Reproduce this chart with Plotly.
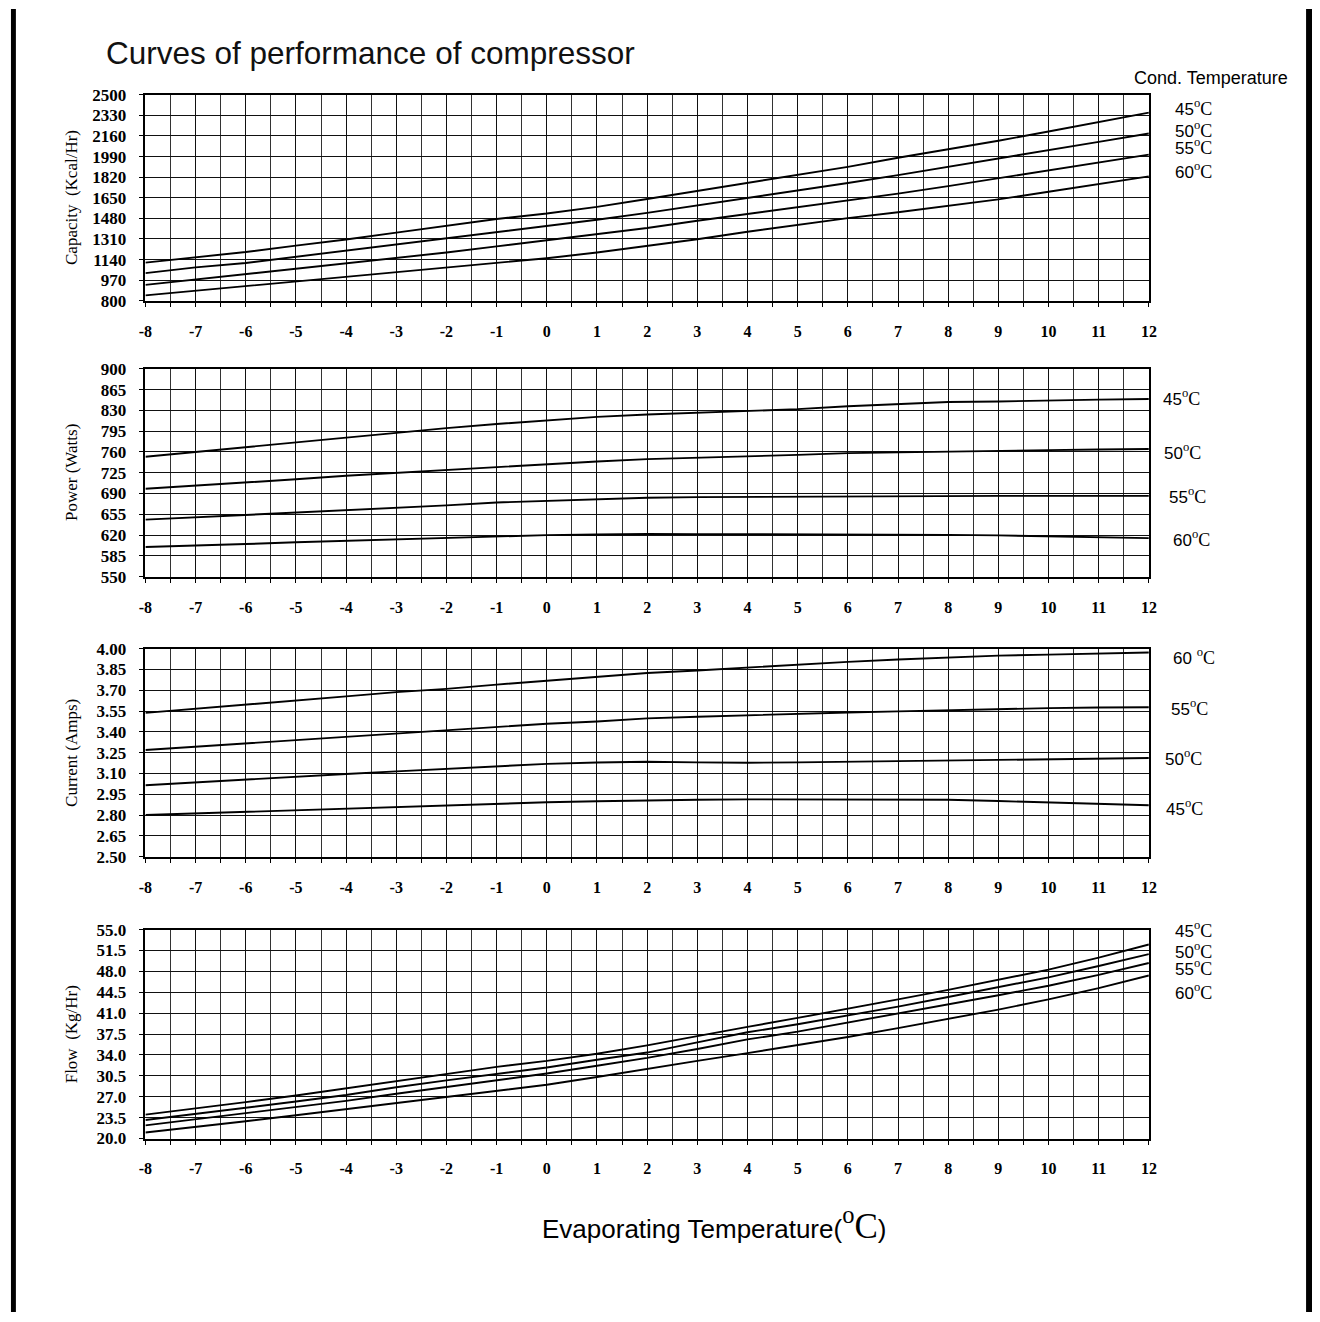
import plotly.graph_objects as go

# ---------------- data ----------------
evap = [-8, -7, -6, -5, -4, -3, -2, -1, 0, 1, 2, 3, 4, 5, 6, 7, 8, 9, 10, 11, 12]

cap_45 = [1115, 1160, 1202, 1255, 1305, 1362, 1418, 1475, 1520, 1575, 1640, 1706, 1770, 1840, 1905, 1980, 2050, 2120, 2197, 2277, 2352]
cap_50 = [1028, 1075, 1112, 1163, 1215, 1268, 1320, 1370, 1416, 1468, 1525, 1586, 1646, 1708, 1772, 1837, 1904, 1971, 2038, 2111, 2180]
cap_55 = [931, 975, 1018, 1062, 1110, 1152, 1198, 1249, 1298, 1348, 1400, 1460, 1515, 1571, 1628, 1684, 1746, 1810, 1875, 1937, 2006]
cap_60 = [844, 882, 920, 955, 993, 1031, 1070, 1108, 1151, 1198, 1252, 1308, 1369, 1428, 1482, 1530, 1581, 1637, 1699, 1761, 1826]

pow_45 = [752, 760, 768, 777, 784, 793, 800, 807, 813, 819, 823, 826, 828, 832, 837, 840, 844, 845, 847, 848, 849]
pow_50 = [698, 703, 708, 714, 720, 725, 730, 735, 740, 744, 748, 750, 752, 755, 758, 759.5, 761, 762, 763, 764, 765]
pow_55 = [646, 650, 654, 658, 661, 666, 670, 675, 678, 680, 683, 684, 684.5, 685, 685.5, 686, 686, 686, 686, 686, 686]
pow_60 = [600, 602, 605, 608, 610.5, 613, 616, 618, 620, 621, 622, 621.7, 621.7, 621.7, 621.5, 621, 620.5, 619.5, 618, 616.5, 615]

cur_60 = [3.537, 3.566, 3.594, 3.625, 3.656, 3.687, 3.71, 3.741, 3.77, 3.794, 3.824, 3.843, 3.865, 3.886, 3.905, 3.922, 3.938, 3.95, 3.957, 3.964, 3.972]
cur_55 = [3.269, 3.293, 3.316, 3.34, 3.366, 3.39, 3.411, 3.435, 3.459, 3.475, 3.497, 3.509, 3.521, 3.53, 3.54, 3.548, 3.557, 3.564, 3.571, 3.576, 3.578]
cur_50 = [3.015, 3.036, 3.058, 3.077, 3.096, 3.115, 3.134, 3.153, 3.169, 3.179, 3.184, 3.18, 3.177, 3.18, 3.185, 3.19, 3.195, 3.2, 3.204, 3.209, 3.211]
cur_45 = [2.80, 2.812, 2.821, 2.833, 2.845, 2.857, 2.869, 2.881, 2.892, 2.899, 2.906, 2.91, 2.913, 2.913, 2.913, 2.913, 2.91, 2.901, 2.891, 2.88, 2.871]

flow_45 = [24.0, 25.0, 26.1, 27.2, 28.4, 29.7, 30.9, 32.0, 33.0, 34.2, 35.6, 37.2, 38.7, 40.2, 41.7, 43.3, 44.9, 46.6, 48.3, 50.3, 52.5]
flow_50 = [23.1, 24.1, 25.1, 26.2, 27.3, 28.6, 29.75, 30.8, 31.9, 33.2, 34.4, 36.1, 37.8, 39.15, 40.6, 42.1, 43.7, 45.3, 47.0, 48.9, 50.9]
flow_55 = [22.2, 23.2, 24.2, 25.2, 26.3, 27.5, 28.65, 29.7, 30.9, 32.2, 33.5, 35.0, 36.6, 37.9, 39.4, 40.9, 42.5, 44.0, 45.6, 47.4, 49.4]
flow_60 = [21.0, 21.9, 22.9, 23.9, 24.9, 25.9, 26.95, 27.9, 29.0, 30.3, 31.7, 33.0, 34.3, 35.6, 37.0, 38.5, 40.0, 41.6, 43.3, 45.2, 47.3]

cap_ticks = ["800", "970", "1140", "1310", "1480", "1650", "1820", "1990", "2160", "2330", "2500"]
pow_ticks = ["550", "585", "620", "655", "690", "725", "760", "795", "830", "865", "900"]
cur_ticks = ["2.50", "2.65", "2.80", "2.95", "3.10", "3.25", "3.40", "3.55", "3.70", "3.85", "4.00"]
flow_ticks = ["20.0", "23.5", "27.0", "30.5", "34.0", "37.5", "41.0", "44.5", "48.0", "51.5", "55.0"]

y_titles = ["Capacity  (Kcal/Hr)", "Power (Watts)", "Current (Amps)", "Flow  (Kg/Hr)"]

panel_series = [
    [cap_45, cap_50, cap_55, cap_60],
    [pow_45, pow_50, pow_55, pow_60],
    [cur_60, cur_55, cur_50, cur_45],
    [flow_45, flow_50, flow_55, flow_60],
]
panel_ticks = [cap_ticks, pow_ticks, cur_ticks, flow_ticks]

# right-side labels: (text number, left px, centre y px)
panel_labels = [
    [("45", 1179, 100), ("50", 1179, 122), ("55", 1179, 139), ("60", 1179, 164)],
    [("45", 1167, 394), ("50", 1168, 449), ("55", 1173, 494), ("60", 1177, 537)],
    [("60 ", 1177, 657), ("55", 1175, 709), ("50", 1169, 759), ("45", 1170, 810)],
    [("45", 1179, 934), ("50", 1179, 955), ("55", 1179, 972), ("60", 1179, 997)],
]

# ---------------- layout geometry ----------------
W, H = 1320, 1322
XL, XR = 140, 1155
panels_px = [(87, 296), (365, 576), (649, 860), (934, 1146)]


def fx(p):
    return p / W


def fy(p):
    return 1 - p / H


fig = go.Figure()
layout = dict(
    width=W, height=H, autosize=False,
    margin=dict(l=0, r=0, t=0, b=0),
    paper_bgcolor="white", plot_bgcolor="white",
    showlegend=False,
    annotations=[], shapes=[],
)

serif = "Liberation Serif"
sans = "Liberation Sans"

for i, (top, bot) in enumerate(panels_px):
    n = i + 1
    xs = "x" if n == 1 else f"x{n}"
    ys = "y" if n == 1 else f"y{n}"
    ticks = panel_ticks[i]
    tvals = [float(t) for t in ticks]
    layout[f"xaxis{'' if n == 1 else n}"] = dict(
        domain=[fx(XL), fx(XR)], anchor=ys, range=[-8, 12],
        tickmode="array", tickvals=evap, ticktext=[str(v) for v in evap],
        ticks="outside", ticklen=5, tickcolor="black", tickwidth=1,
        showgrid=True, gridcolor="#111", gridwidth=1,
        minor=dict(tickmode="linear", tick0=-8, dtick=0.5, showgrid=True,
                   gridcolor="#333", gridwidth=1, ticks="outside", ticklen=5,
                   tickcolor="black"),
        showline=True, linecolor="black", linewidth=1.5, mirror=True,
        zeroline=False, fixedrange=True,
        tickfont=dict(family=serif, size=16, color="black", weight="bold"),
        ticklabelstandoff=10,
    )
    layout[f"yaxis{'' if n == 1 else n}"] = dict(
        domain=[fy(bot), fy(top)], anchor=xs, range=[tvals[0], tvals[-1]],
        tickmode="array", tickvals=tvals, ticktext=ticks,
        ticks="outside", ticklen=5, tickcolor="black",
        showgrid=True, gridcolor="#111", gridwidth=1,
        showline=True, linecolor="black", linewidth=1.5, mirror=True,
        zeroline=False, fixedrange=True,
        tickfont=dict(family=serif, size=17, color="black", weight="bold"),
        ticklabelstandoff=9,
    )
    for s in panel_series[i]:
        fig.add_trace(go.Scatter(x=evap, y=s, mode="lines", xaxis=xs, yaxis=ys,
                                 line=dict(color="black", width=1.9),
                                 hoverinfo="skip"))
    # y-axis title
    layout["annotations"].append(dict(
        text=y_titles[i], xref="paper", yref="paper",
        x=fx(65), y=fy((top + bot) / 2), textangle=-90,
        showarrow=False, xanchor="center", yanchor="middle",
        font=dict(family=serif, size=17, color="black")))
    # right-side condensing temperature labels
    for num, lx, ly in panel_labels[i]:
        layout["annotations"].append(dict(
            text=f"{num}<span style='font-family:{serif};font-size:18px'><sup>o</sup>C</span>",
            xref="paper", yref="paper", x=fx(lx), y=fy(ly),
            xanchor="left", yanchor="middle", showarrow=False,
            font=dict(family=sans, size=17, color="black")))

# title and other texts
layout["annotations"].append(dict(
    text="Curves of performance of compressor", xref="paper", yref="paper",
    x=fx(98), y=fy(45), xanchor="left", yanchor="middle", showarrow=False,
    font=dict(family=sans, size=31.5, color="#111")))
layout["annotations"].append(dict(
    text="Cond. Temperature", xref="paper", yref="paper",
    x=fx(1298), y=fy(70), xanchor="right", yanchor="middle", showarrow=False,
    font=dict(family=sans, size=18, color="black")))
layout["annotations"].append(dict(
    text=f"Evaporating Temperature(<span style='font-family:{serif};font-size:35px'><sup>o</sup>C</span>)",
    xref="paper", yref="paper", x=fx(715), y=fy(1232),
    xanchor="center", yanchor="middle", showarrow=False,
    font=dict(family=sans, size=26, color="black")))

# page frame bars on the left and right edges
layout["shapes"].append(dict(type="rect", xref="paper", yref="paper",
                             x0=fx(4), x1=fx(9), y0=0, y1=1,
                             fillcolor="black", line=dict(width=0)))
layout["shapes"].append(dict(type="rect", xref="paper", yref="paper",
                             x0=fx(1314), x1=1, y0=0, y1=1,
                             fillcolor="black", line=dict(width=0)))

fig.update_layout(**layout)
fig.write_html(
    "out.html",
    config={"displayModeBar": False},
    post_script="document.body.style.margin='0';document.body.style.overflow='hidden';",
)
